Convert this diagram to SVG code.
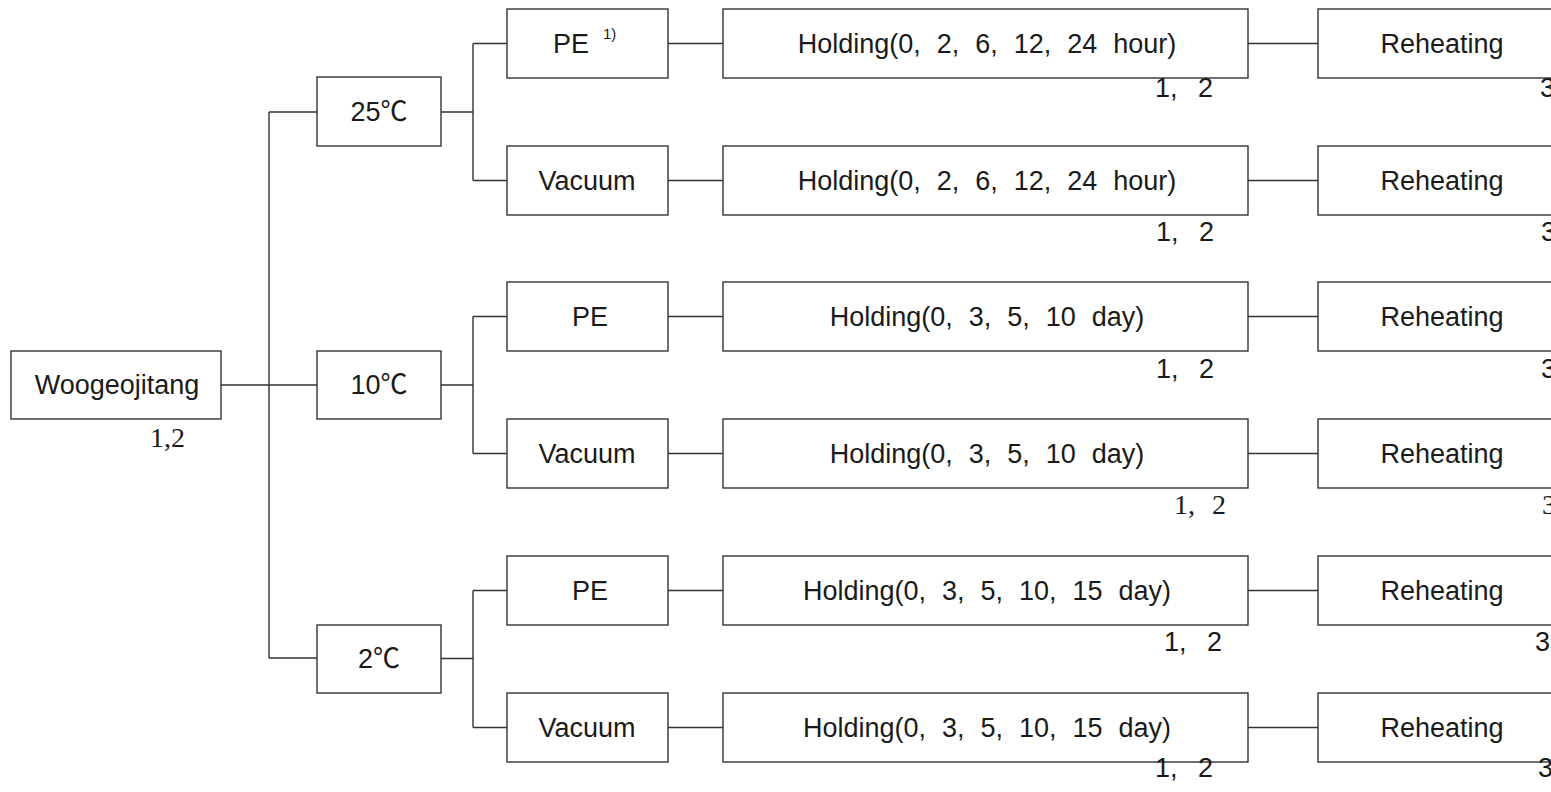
<svg xmlns="http://www.w3.org/2000/svg" width="1551" height="792" viewBox="0 0 1551 792">
<style>
.box{fill:#fff;stroke:#333;stroke-width:1.4}
.t{font-family:"Liberation Sans","Noto Sans CJK KR",sans-serif;font-size:27px;fill:#1a1a1a;text-anchor:middle}
.h{word-spacing:8.5px}
.l{font-family:"Liberation Sans",sans-serif;font-size:27px;fill:#1a1a1a;word-spacing:13px}
.s{font-family:"Liberation Serif",serif;font-size:28px;fill:#1a1a1a;word-spacing:10px}
.sup{font-family:"Liberation Sans",sans-serif;font-size:15px;fill:#1a1a1a}
#connectors path{fill:none;stroke:#333;stroke-width:1.4}
</style>
<rect width="1551" height="792" fill="#fff"/>
<g id="connectors">
<path d="M221 385H317M269 112V658M269 112H317M269 658H317"/>
<path d="M441 112H473M473 43.5V180.5M473 43.5H507M473 180.5H507"/>
<path d="M441 385H473M473 316.5V453.5M473 316.5H507M473 453.5H507"/>
<path d="M441 658.5H473M473 590.5V727.5M473 590.5H507M473 727.5H507"/>
<path d="M668 43.5H723M668 180.5H723M668 316.5H723M668 453.5H723M668 590.5H723M668 727.5H723"/>
<path d="M1248 43.5H1318M1248 180.5H1318M1248 316.5H1318M1248 453.5H1318M1248 590.5H1318M1248 727.5H1318"/>
</g>
<g id="woogeojitang">
<rect class="box" x="11" y="351" width="210" height="68"/>
<text class="t" x="117" y="394">Woogeojitang</text>
<text class="s" x="150" y="447" style="word-spacing:0">1,2</text>
</g>
<g id="t25"><rect class="box" x="317" y="77" width="124" height="69"/><text class="t" x="379" y="121">25℃</text></g>
<g id="t10"><rect class="box" x="317" y="351" width="124" height="68"/><text class="t" x="379" y="394">10℃</text></g>
<g id="t2"><rect class="box" x="317" y="625" width="124" height="68"/><text class="t" x="379" y="668">2℃</text></g>

<g id="pe25"><rect class="box" x="507" y="9" width="161" height="69"/><text class="t" x="571" y="53">PE</text><text class="sup" x="603" y="39">1)</text></g>
<g id="vac25"><rect class="box" x="507" y="146" width="161" height="69"/><text class="t" x="587" y="190">Vacuum</text></g>
<g id="pe10"><rect class="box" x="507" y="282" width="161" height="69"/><text class="t" x="590" y="326">PE</text></g>
<g id="vac10"><rect class="box" x="507" y="419" width="161" height="69"/><text class="t" x="587" y="463">Vacuum</text></g>
<g id="pe2"><rect class="box" x="507" y="556" width="161" height="69"/><text class="t" x="590" y="600">PE</text></g>
<g id="vac2"><rect class="box" x="507" y="693" width="161" height="69"/><text class="t" x="587" y="737">Vacuum</text></g>

<g id="hold1"><rect class="box" x="723" y="9" width="525" height="69"/><text class="t h" x="987" y="53">Holding(0, 2, 6, 12, 24 hour)</text><text class="l" x="1155" y="97">1, 2</text></g>
<g id="hold2"><rect class="box" x="723" y="146" width="525" height="69"/><text class="t h" x="987" y="190">Holding(0, 2, 6, 12, 24 hour)</text><text class="l" x="1156" y="241">1, 2</text></g>
<g id="hold3"><rect class="box" x="723" y="282" width="525" height="69"/><text class="t h" x="987" y="326">Holding(0, 3, 5, 10 day)</text><text class="l" x="1156" y="378">1, 2</text></g>
<g id="hold4"><rect class="box" x="723" y="419" width="525" height="69"/><text class="t h" x="987" y="463">Holding(0, 3, 5, 10 day)</text><text class="s" x="1174" y="514">1, 2</text></g>
<g id="hold5"><rect class="box" x="723" y="556" width="525" height="69"/><text class="t h" x="987" y="600">Holding(0, 3, 5, 10, 15 day)</text><text class="l" x="1164" y="651">1, 2</text></g>
<g id="hold6"><rect class="box" x="723" y="693" width="525" height="69"/><text class="t h" x="987" y="737">Holding(0, 3, 5, 10, 15 day)</text><text class="l" x="1155" y="777">1, 2</text></g>

<g id="reh1"><rect class="box" x="1318" y="9" width="248" height="69"/><text class="t" x="1442" y="53">Reheating</text><text class="l" x="1540" y="97">3</text></g>
<g id="reh2"><rect class="box" x="1318" y="146" width="248" height="69"/><text class="t" x="1442" y="190">Reheating</text><text class="l" x="1541" y="241">3</text></g>
<g id="reh3"><rect class="box" x="1318" y="282" width="248" height="69"/><text class="t" x="1442" y="326">Reheating</text><text class="l" x="1541" y="378">3</text></g>
<g id="reh4"><rect class="box" x="1318" y="419" width="248" height="69"/><text class="t" x="1442" y="463">Reheating</text><text class="s" x="1542" y="514">3</text></g>
<g id="reh5"><rect class="box" x="1318" y="556" width="248" height="69"/><text class="t" x="1442" y="600">Reheating</text><text class="l" x="1535" y="651">3</text></g>
<g id="reh6"><rect class="box" x="1318" y="693" width="248" height="69"/><text class="t" x="1442" y="737">Reheating</text><text class="l" x="1538" y="777">3</text></g>
</svg>
